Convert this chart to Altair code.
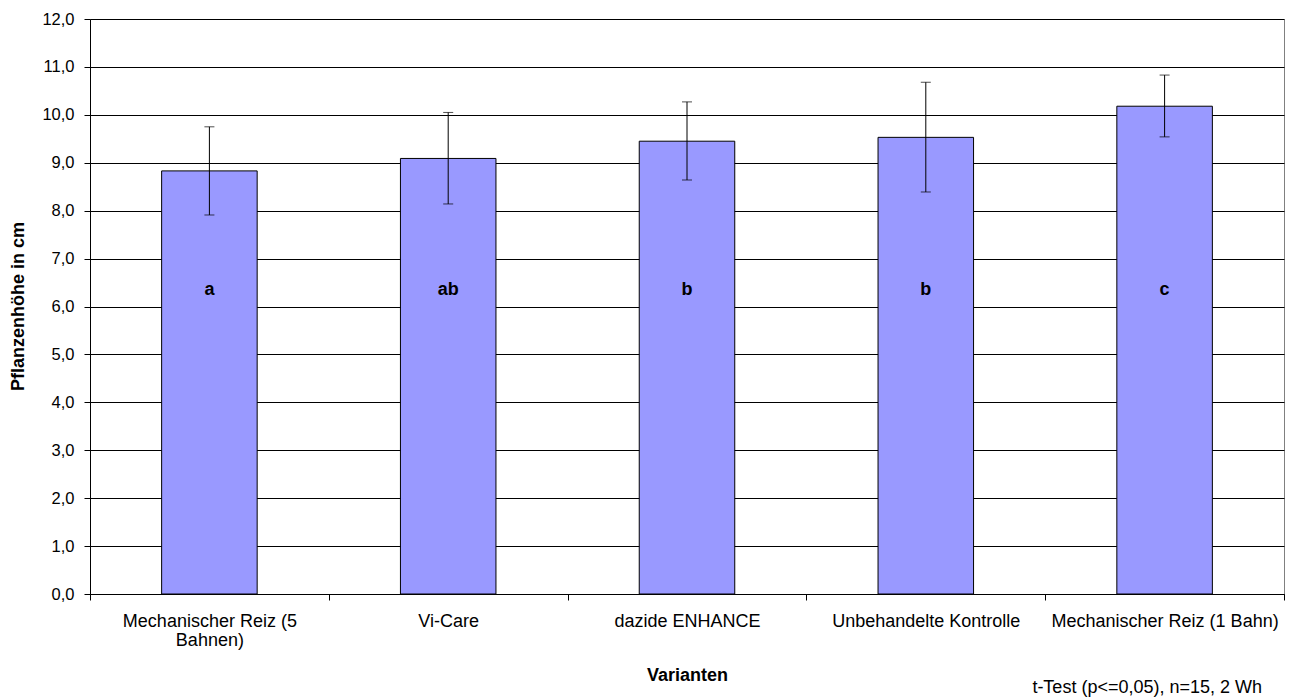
import altair as alt
import pandas as pd

categories = ["Mechanischer Reiz (5 Bahnen)", "Vi-Care", "dazide ENHANCE",
              "Unbehandelte Kontrolle", "Mechanischer Reiz (1 Bahn)"]
means = [8.83, 9.09, 9.45, 9.53, 10.18]
err_low = [7.91, 8.14, 8.64, 8.39, 9.54]
err_high = [9.75, 10.05, 10.27, 10.68, 10.83]
letters = ["a", "ab", "b", "b", "c"]
y_ticks = list(range(0, 13))
footnote = "t-Test (p<=0,05), n=15, 2 Wh"
letter_level = 6.35

FONT = "Liberation Sans"
FS = 18

df = pd.DataFrame({"cat": categories, "mean": means, "lo": err_low,
                   "hi": err_high, "letter": letters})

xscale = alt.Scale(paddingInner=0, paddingOuter=0)
yscale = alt.Scale(domain=[0, 12], nice=False)

label_expr = ("datum.label == 'Mechanischer Reiz (5 Bahnen)' ? "
              "['Mechanischer Reiz (5', 'Bahnen)'] : datum.label")

x_enc = alt.X("cat:N", sort=categories, scale=xscale,
              axis=alt.Axis(title="Varianten", labelAngle=0, tickBand="extent",
                            labelExpr=label_expr, labelFont=FONT, labelFontSize=FS,
                            labelColor="#000", labelLineHeight=19, labelLimit=0,
                            labelPadding=12, tickSize=6, tickColor="#000",
                            domainColor="#000", labelBaseline="top",
                            titleFont=FONT, titleFontSize=FS, titleFontWeight="bold",
                            titleColor="#000", titleY=81, titleBaseline="middle",
                            grid=False))
y_enc = alt.Y("mean:Q", scale=yscale,
              axis=alt.Axis(title="Pflanzenhöhe in cm", values=y_ticks,
                            labelExpr="replace(format(datum.value, '.1f'), '.', ',')",
                            labelFont=FONT, labelFontSize=16.5, labelColor="#000",
                            labelPadding=10, tickSize=6, tickColor="#000",
                            domainColor="#000", grid=True, gridColor="#000",
                            gridWidth=1, titleFont=FONT, titleFontSize=FS,
                            titleFontWeight="bold", titleColor="#000",
                            titleX=-72, titleY=287, titleAngle=270,
                            titleAlign="center", titleBaseline="middle"))

base = alt.Chart(df)

bars = base.mark_bar(color="#9999FF", stroke="#000", strokeWidth=1,
                     width=alt.RelativeBandSize(0.4)).encode(x=x_enc, y=y_enc)

rules = base.mark_rule(color="#000", strokeWidth=1).encode(
    x=alt.X("cat:N", sort=categories), y="lo:Q", y2="hi:Q")

caps_hi = base.mark_tick(color="#000", size=10, thickness=1, orient="horizontal").encode(
    x=alt.X("cat:N", sort=categories), y="hi:Q")
caps_lo = base.mark_tick(color="#000", size=10, thickness=1, orient="horizontal").encode(
    x=alt.X("cat:N", sort=categories), y="lo:Q")

txt = base.mark_text(font=FONT, fontSize=FS, fontWeight="bold", color="#000",
                     baseline="middle", align="center").encode(
    x=alt.X("cat:N", sort=categories), y=alt.datum(letter_level), text="letter:N")

foot = alt.Chart(pd.DataFrame({"t": [footnote]})).mark_text(
    font=FONT, fontSize=FS, color="#000", align="right", baseline="middle").encode(
    text="t:N", x=alt.value(1172), y=alt.value(669))

chart = alt.layer(bars, rules, caps_hi, caps_lo, txt, foot).properties(
    width=1194, height=575,
    autosize=alt.AutoSizeParams(type="none"),
    padding={"left": 90, "top": 19, "right": 10, "bottom": 105},
    background="#ffffff",
).configure_view(stroke="#808080", strokeWidth=1)

chart.save("out.html", embed_options={"renderer": "svg", "actions": False})
